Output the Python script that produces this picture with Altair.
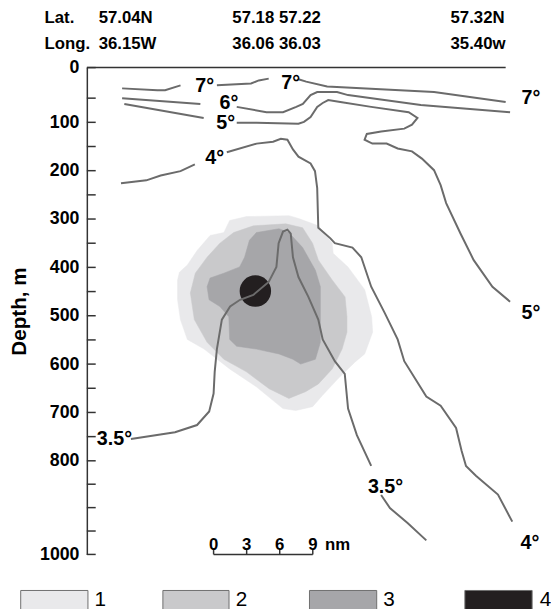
import altair as alt
import pandas as pd

FONT = "Liberation Sans"

# ---- isotherm segments: distance along section (nm), depth (m) ----
seg_names = ["7a", "7b", "7c", "6a", "6b", "5a", "5b", "4a", "4b", "35a", "35b"]
seg_x = [
    [3.2, 6.4, 7.1, 8.5],
    [11.8, 14.9, 15.6, 16.5],
    [19.2, 19.9, 21.8, 31.5, 38.0],
    [3.2, 10.3],
    [13.6, 16.3, 17.8, 19.0, 19.6, 20.3, 20.9, 22.7, 23.7, 30.3, 38.4],
    [3.4, 10.6],
    [13.6, 15.4, 19.2, 19.7, 20.3, 20.9, 21.4, 21.9, 23.0, 25.8, 29.2, 30.0, 29.5, 28.8,
     26.7, 25.4, 25.2, 25.9, 27.2, 28.2, 29.5, 30.4, 31.5, 32.1, 32.6, 33.9, 35.1, 36.8, 38.4],
    [3.1, 5.4, 6.7, 8.5, 9.8],
    [12.7, 15.4, 16.9, 17.6, 18.2, 18.7, 19.2, 20.3, 20.7, 20.9, 21.0, 22.1, 22.5, 24.1,
     24.9, 25.8, 27.0, 28.2, 28.8, 30.8, 32.1, 33.5, 34.0, 34.4, 35.3, 37.3, 38.6],
    [4.0, 8.0, 10.0, 11.1, 11.5, 11.6, 11.8, 12.25, 13.0, 13.9, 15.1, 16.5, 17.2, 17.4,
     17.8, 18.2, 18.5, 18.7, 19.2, 20.1, 21.0, 21.4, 22.5, 23.4, 23.7, 24.5, 25.8],
    [26.7, 27.5, 29.1, 30.8],
]
seg_d = [
    [34, 37, 37, 29],
    [29, 26, 21, 18],
    [19, 23, 31, 40, 58],
    [50, 62],
    [68, 79, 79, 68, 62, 45, 40, 40, 45, 64, 79],
    [62, 91],
    [101, 101, 103, 99, 89, 68, 60, 54, 58, 68, 79, 91, 105, 113,
     119, 124, 136, 144, 144, 154, 160, 175, 199, 230, 267, 330, 385, 440, 471],
    [226, 220, 210, 201, 187],
    [162, 144, 140, 134, 136, 156, 171, 185, 201, 236, 318, 340, 350, 359,
     379, 440, 493, 549, 594, 667, 686, 732, 779, 811, 832, 872, 930],
    [755, 741, 726, 698, 661, 616, 569, 508, 481, 467, 457, 430, 399, 350,
     326, 322, 330, 379, 420, 461, 508, 549, 594, 620, 692, 747, 811],
    [873, 901, 933, 970],
]

# isotherm labels
iso_text = ["7°", "7°", "7°", "6°", "5°", "5°", "4°", "4°", "3.5°", "3.5°"]
iso_tx = [10.7, 18.5, 40.3, 12.9, 12.6, 40.3, 11.6, 40.2, 2.5, 27.1]
iso_td = [31, 25, 50, 61, 102, 495, 174, 975, 755, 856]

# ---- shaded zones 1..3 (outline points) ----
z1_x = [12.96, 14.48, 18.33, 19.22, 21.01, 22.26, 22.35, 23.69, 25.21, 25.84, 25.93, 25.21,
        24.32, 22.80, 21.37, 20.48, 18.96, 17.79, 15.38, 12.96, 10.64, 9.12, 8.49, 8.23,
        8.23, 8.40, 9.12, 10.01, 11.18, 12.43]
z1_d = [303, 295, 293, 299, 314, 350, 371, 399, 446, 502, 534, 579,
        596, 630, 665, 688, 696, 692, 647, 610, 569, 549, 508, 467,
        426, 410, 395, 365, 334, 328]
z2_x = [15.11, 18.06, 19.58, 20.48, 21.01, 22.26, 23.43, 23.60, 23.60, 23.16, 22.26, 21.01,
        19.85, 18.33, 16.54, 14.48, 12.43, 10.91, 9.75, 9.39, 9.84, 10.91, 12.07, 13.32]
z2_d = [314, 310, 318, 350, 385, 426, 461, 502, 534, 569, 610, 641,
        657, 671, 651, 616, 590, 555, 508, 453, 412, 379, 350, 328]
z3_x = [15.38, 17.43, 18.33, 19.58, 20.74, 21.19, 21.19, 20.74, 19.40, 18.69, 17.43, 15.38,
        13.59, 12.96, 12.88, 12.07, 11.09, 10.91, 11.18, 12.43, 13.86, 14.31, 14.75]
z3_d = [328, 320, 328, 359, 406, 440, 555, 590, 600, 590, 579, 569,
        563, 549, 502, 481, 467, 440, 422, 412, 399, 379, 344]
zone_colors = ["#e9e9eb", "#c9c9cb", "#a6a6a9", "#231f20"]

# zone 4: black core
core_x = [15.29]
core_d = [449]

# ---- header (station positions) ----
head_text = ["Lat.", "57.04N", "57.18 57.22", "57.32N",
             "Long.", "36.15W", "36.06 36.03", "35.40w"]
head_x = [-3.84, 1.07, 13.2, 33.0, -3.84, 1.07, 13.2, 33.0]
head_d = [-81, -81, -81, -81, -38, -38, -38, -38]

# ---- scale bar ----
bar_start = 11.5
bar_ticks = [0, 3, 6, 9]

# ---- legend ----
leg_labels = ["1", "2", "3", "4"]
leg_x1 = [-6.0, 6.9, 20.2, 34.3]
leg_x2 = [0.1, 12.9, 26.3, 40.4]
leg_tx = [0.7, 13.5, 26.9, 41.1]

depth_labels = [0, 100, 200, 300, 400, 500, 600, 700, 800, 1000]
depth_ticks = list(range(0, 1001, 50))

# ---------------------------------------------------------------
xs = alt.Scale(domain=[0, 38], nice=False, zero=False)
ys = alt.Scale(domain=[0, 50, 800, 1000], range=[0, 31, 399, 494], nice=False, zero=False)

yaxis = alt.Axis(values=depth_labels, format="d", ticks=False, grid=False, domain=True,
                 domainColor="#333333", domainWidth=1.5,
                 labelFont=FONT, labelFontSize=18, labelFontWeight="bold", labelColor="black",
                 labelPadding=8, title="Depth, m", titleFont=FONT, titleFontSize=21,
                 titleFontWeight="bold", titleColor="black", titlePadding=10)


def X(f="x"):
    return alt.X(f"{f}:Q", scale=xs, axis=None)


def Y(f="d"):
    return alt.Y(f"{f}:Q", scale=ys, axis=yaxis)


def poly(xv, dv, col):
    df = pd.DataFrame({"x": xv, "d": dv, "i": range(len(xv))})
    return alt.Chart(df).mark_line(interpolate="linear-closed", fill=col, stroke=col,
                                   strokeWidth=0.5).encode(x=X(), y=Y(), order="i:Q")


rows = []
for n, xv, dv in zip(seg_names, seg_x, seg_d):
    for i, (a, b) in enumerate(zip(xv, dv)):
        rows.append({"seg": n, "i": i, "x": a, "d": b})
lines_df = pd.DataFrame(rows)

layers = []
layers.append(poly(z1_x, z1_d, zone_colors[0]))
layers.append(poly(z2_x, z2_d, zone_colors[1]))
layers.append(poly(z3_x, z3_d, zone_colors[2]))

layers.append(alt.Chart(pd.DataFrame({"x": core_x, "d": core_d})).mark_circle(
    size=1018, color=zone_colors[3], opacity=1).encode(x=X(), y=Y()))

layers.append(alt.Chart(lines_df).mark_line(color="#6b6b6b", strokeWidth=2).encode(
    x=X(), y=Y(), detail="seg:N", order="i:Q"))

layers.append(alt.Chart(pd.DataFrame({"t": iso_text, "x": iso_tx, "d": iso_td})).mark_text(
    font=FONT, fontSize=20, fontWeight="bold", color="black", align="center", baseline="middle"
).encode(x=X(), y=Y(), text="t:N"))

# surface line
layers.append(alt.Chart(pd.DataFrame({"x": [0], "x2": [38], "d": [0]})).mark_rule(
    color="#333333", strokeWidth=1.5).encode(x=X(), x2="x2:Q", y=Y()))

# inward ticks
layers.append(alt.Chart(pd.DataFrame({"d": depth_ticks})).mark_rule(
    color="#333333", strokeWidth=1.5).encode(y=Y(), x=alt.value(0), x2=alt.value(9)))

# header
layers.append(alt.Chart(pd.DataFrame({"t": head_text, "x": head_x, "d": head_d})).mark_text(
    font=FONT, fontSize=17, fontWeight="bold", color="black", align="left", baseline="middle"
).encode(x=X(), y=Y(), text="t:N"))

# scale bar
bar_df = pd.DataFrame({"x": [bar_start], "x2": [bar_start + bar_ticks[-1]], "d": [1000]})
layers.append(alt.Chart(bar_df).mark_rule(color="#333333", strokeWidth=1.5).encode(
    x=X(), x2="x2:Q", y=Y()))
btk = pd.DataFrame({"x": [bar_start + t for t in bar_ticks], "d": [1000] * 4, "d2": [988] * 4,
                    "dt": [990] * 4, "t": [str(t) for t in bar_ticks]})
layers.append(alt.Chart(btk).mark_rule(color="#333333", strokeWidth=1.5).encode(
    x=X(), y=Y(), y2="d2:Q"))
layers.append(alt.Chart(btk).mark_text(font=FONT, fontSize=17, fontWeight="bold", color="black",
                                       align="center", baseline="alphabetic").encode(
    x=X(), y=Y("dt"), text="t:N"))
layers.append(alt.Chart(pd.DataFrame({"x": [bar_start + bar_ticks[-1] + 1.1], "d": [990],
                                      "t": ["nm"]})).mark_text(
    font=FONT, fontSize=17, fontWeight="bold", color="black", align="left",
    baseline="alphabetic").encode(x=X(), y=Y(), text="t:N"))

# legend
leg_df = pd.DataFrame({"x": leg_x1, "x2": leg_x2, "d": [1077] * 4, "d2": [1122] * 4,
                       "c": zone_colors, "t": leg_labels, "tx": leg_tx, "td": [1110] * 4})
layers.append(alt.Chart(leg_df).mark_rect(stroke="#6e6e6e", strokeWidth=1).encode(
    x=X(), x2="x2:Q", y=Y(), y2="d2:Q", fill=alt.Fill("c:N", scale=None)))
layers.append(alt.Chart(leg_df).mark_text(font=FONT, fontSize=21, color="black", align="left",
                                          baseline="alphabetic").encode(
    x=X("tx"), y=Y("td"), text="t:N"))

chart = alt.layer(*layers).properties(
    width=425, height=494, autosize="none",
    padding={"left": 80, "top": 56, "right": 46, "bottom": 58},
    background="white",
).configure_view(strokeWidth=0)

chart.save("out.html", embed_options={"renderer": "svg", "actions": False})
